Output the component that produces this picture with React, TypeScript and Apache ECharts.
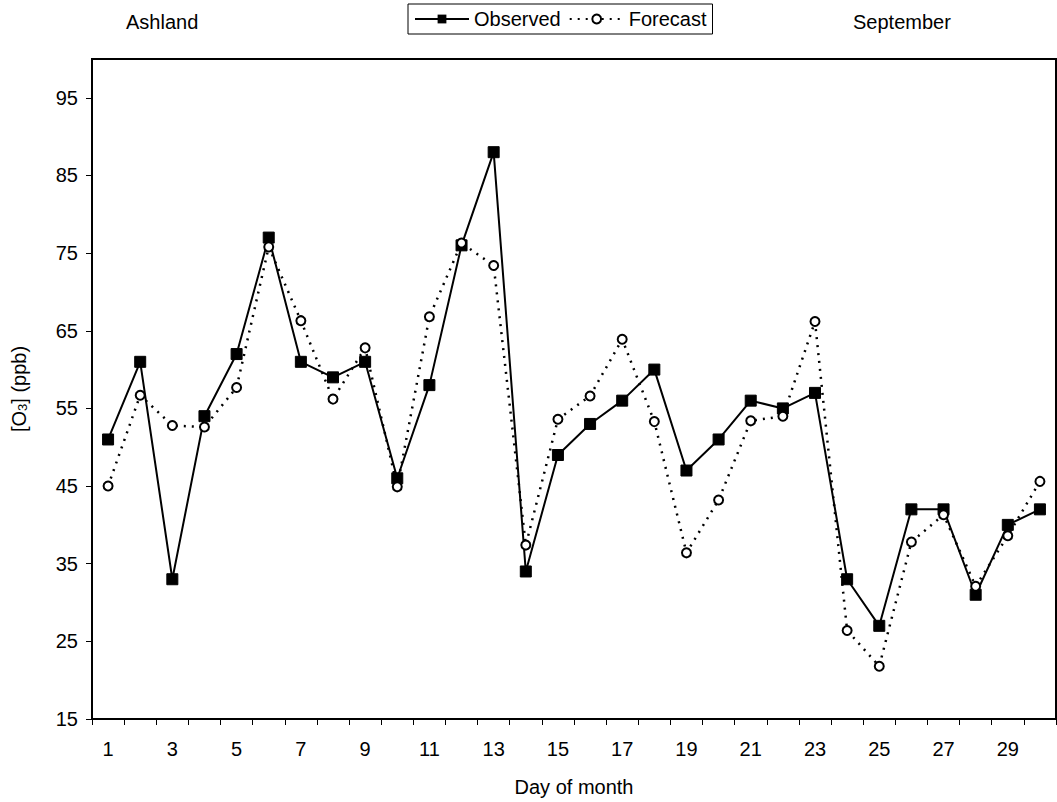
import React, { useEffect, useRef } from "react";
import * as echarts from "echarts";

const days = Array.from({ length: 30 }, (_, i) => String(i + 1));
const observed = [51, 61, 33, 54, 62, 77, 61, 59, 61, 46, 58, 76, 88, 34, 49, 53, 56, 60, 47, 51, 56, 55, 57, 33, 27, 42, 42, 31, 40, 42];
const forecast = [45, 56.7, 52.8, 52.6, 57.7, 75.8, 66.3, 56.2, 62.8, 44.9, 66.8, 76.3, 73.4, 37.4, 53.6, 56.6, 63.9, 53.3, 36.4, 43.2, 53.4, 54.0, 66.2, 26.4, 21.8, 37.8, 41.3, 32.1, 38.6, 45.6];
const siteLabel = "Ashland";
const monthLabel = "September";
const xTitle = "Day of month";

const FONT = "Liberation Sans, Arial, sans-serif";

export default function App() {
  const ref = useRef<HTMLDivElement>(null);
  useEffect(() => {
    if (!ref.current) return;
    const chart = echarts.init(ref.current, null, { renderer: "svg" });
    chart.setOption({
      animation: false,
      backgroundColor: "#fff",
      textStyle: { fontFamily: FONT, color: "#000" },
      title: [
        { text: siteLabel, left: 121, top: 7, textStyle: { fontSize: 20, fontWeight: "normal", color: "#000", fontFamily: FONT } },
        { text: monthLabel, left: 848, top: 7, textStyle: { fontSize: 20, fontWeight: "normal", color: "#000", fontFamily: FONT } },
      ],
      legend: {
        left: 408,
        top: 4,
        padding: [5, 6, 5, 6],
        itemGap: 8,
        itemWidth: 54,
        itemHeight: 11,
        borderColor: "#000",
        borderWidth: 1,
        textStyle: { fontSize: 20, color: "#000", fontFamily: FONT },
        data: ["Observed", "Forecast"],
      },
      grid: { left: 92, top: 59, width: 964, height: 661, show: true, borderColor: "#000", borderWidth: 2, backgroundColor: "transparent" },
      xAxis: {
        type: "category",
        data: days,
        boundaryGap: true,
        name: xTitle,
        nameLocation: "middle",
        nameGap: 58,
        nameTextStyle: { fontSize: 20, color: "#000", fontFamily: FONT },
        axisLine: { lineStyle: { color: "#000", width: 2 } },
        axisTick: { show: true, interval: 0, length: 6, lineStyle: { color: "#000", width: 1 } },
        axisLabel: { interval: 1, fontSize: 20, color: "#000", margin: 20, fontFamily: FONT },
        splitLine: { show: false },
      },
      yAxis: {
        type: "value",
        min: 15,
        max: 100,
        interval: 10,
        name: "[O{sub|3}] (ppb)",
        nameLocation: "middle",
        nameGap: 63,
        nameRotate: 90,
        nameTextStyle: {
          fontSize: 20,
          color: "#000",
          fontFamily: FONT,
          rich: {
            sub: { fontSize: 13, fontFamily: FONT, color: "#000", padding: [8, 0, 0, 0] },
          },
        },
        axisLine: { show: true, lineStyle: { color: "#000", width: 2 } },
        axisTick: { show: true, length: 6, lineStyle: { color: "#000", width: 1 } },
        axisLabel: { fontSize: 20, color: "#000", margin: 14, showMaxLabel: false, fontFamily: FONT },
        splitLine: { show: false },
      },
      series: [
        {
          name: "Observed",
          type: "line",
          data: observed,
          symbol: "rect",
          symbolSize: 11,
          itemStyle: { color: "#000", borderColor: "#000" },
          lineStyle: { color: "#000", width: 2 },
          z: 2,
        },
        {
          name: "Forecast",
          type: "line",
          data: forecast,
          symbol: "circle",
          symbolSize: 9,
          showAllSymbol: true,
          itemStyle: { color: "#fff", borderColor: "#000", borderWidth: 2 },
          lineStyle: { color: "#000", width: 2.5, type: [2, 6] },
          z: 3,
        },
      ],
    });
    return () => chart.dispose();
  }, []);
  return <div ref={ref} style={{ position: "absolute", left: 0, top: 0, width: 1057, height: 802 }} />;
}
